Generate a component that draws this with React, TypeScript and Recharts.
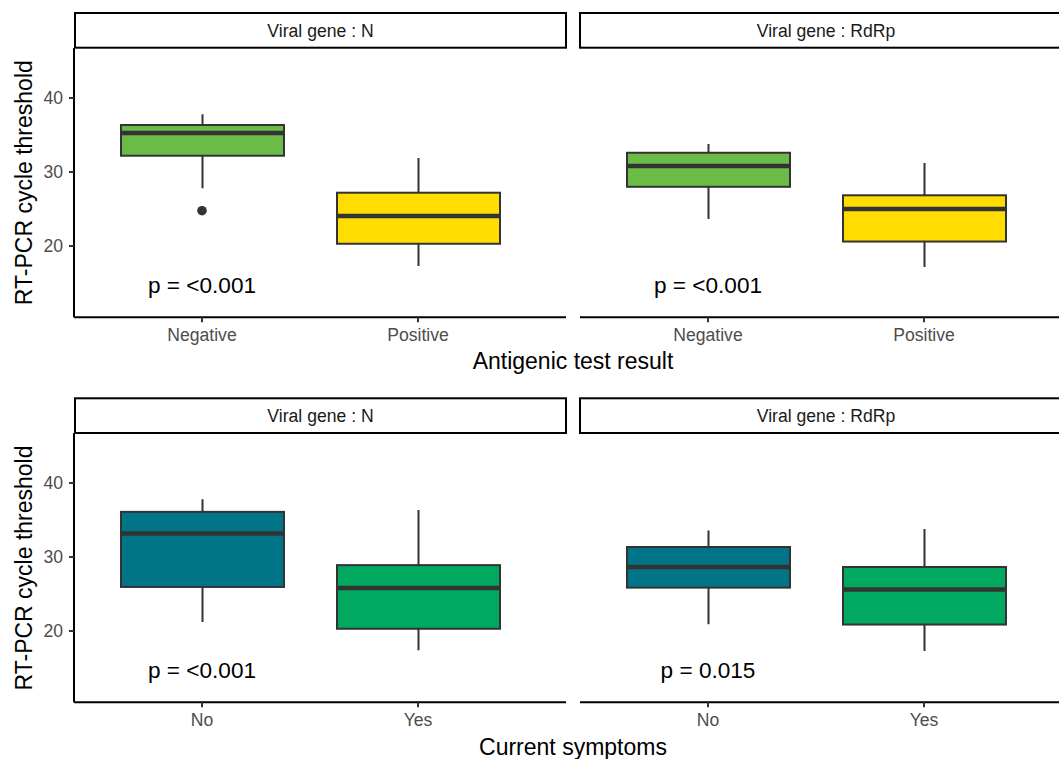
import React from "react";
import { Bar, Cell, ComposedChart, Line, XAxis, YAxis } from "recharts";

// five-number summaries per group: [lower whisker, Q1, median, Q3, upper whisker]
const antigenCategories = ["Negative", "Positive"];
const symptomCategories = ["No", "Yes"];

const antigenN = [
  [27.8, 32.2, 35.27, 36.35, 37.8],
  [17.3, 20.3, 24.05, 27.2, 31.9],
];
const antigenRdRp = [
  [23.65, 28.0, 30.8, 32.6, 33.8],
  [17.16, 20.6, 25.0, 26.85, 31.2],
];
const symptomN = [
  [21.2, 25.95, 33.16, 36.1, 37.8],
  [17.4, 20.3, 25.8, 28.9, 36.35],
];
const symptomRdRp = [
  [20.9, 25.86, 28.65, 31.35, 33.57],
  [17.3, 20.87, 25.6, 28.65, 33.8],
];

const antigenNOutliers = [24.77, null];
const noOutliers = [null, null];

const pAntigenN = "p = <0.001";
const pAntigenRdRp = "p = <0.001";
const pSymptomN = "p = <0.001";
const pSymptomRdRp = "p = 0.015";
const pLabelY = 13.7;

const yTicks = [20, 30, 40];
const yDomain = [10.36, 46.76];

const antigenColors = ["#6BBC47", "#FFDD00"];
const symptomColors = ["#007588", "#00A95F"];

const FONT = '"Liberation Sans", Arial, Helvetica, sans-serif';
const INK = "#333333";

function BoxShape(props: any) {
  const { x, y, width, height, payload, fill } = props;
  const top = Math.min(y, y + height);
  const h = Math.abs(height);
  const [q1, q3] = payload.box;
  const k = h / (q3 - q1);
  const py = (v: number) => top + (q3 - v) * k;
  const cx = x + width / 2;
  return (
    <g>
      <line x1={cx} x2={cx} y1={py(payload.high)} y2={top} stroke={INK} strokeWidth={2} />
      <line x1={cx} x2={cx} y1={top + h} y2={py(payload.low)} stroke={INK} strokeWidth={2} />
      <rect x={x} y={top} width={width} height={h} fill={fill} stroke={INK} strokeWidth={2} />
      <line x1={x} x2={x + width} y1={py(payload.med)} y2={py(payload.med)} stroke={INK} strokeWidth={4.5} />
    </g>
  );
}

function OutlierDot(props: any) {
  const { cx, cy, value, index } = props;
  if (value == null || cy == null) return <g key={`o${index}`} />;
  return <circle key={`o${index}`} cx={cx} cy={cy} r={4.8} fill={INK} />;
}

function makeLabel(text: string) {
  return (props: any) => {
    const { cx, cy, value, index } = props;
    if (value == null || cy == null) return <g key={`p${index}`} />;
    return (
      <text key={`p${index}`} x={cx} y={cy} textAnchor="middle" fontSize={22.6} fontFamily={FONT} fill="#000">
        {text}
      </text>
    );
  };
}

interface PanelProps {
  categories: string[];
  stats: number[][];
  outliers: (number | null)[];
  colors: string[];
  pText: string;
  showY: boolean;
  left: number;
  top: number;
}

function Panel({ categories, stats, outliers, colors, pText, showY, left, top }: PanelProps) {
  const rows = categories.map((c, i) => ({
    cat: c,
    box: [stats[i][1], stats[i][3]],
    low: stats[i][0],
    med: stats[i][2],
    high: stats[i][4],
    outlier: outliers[i],
    pY: i === 0 ? pLabelY : null,
  }));
  const width = showY ? 567 : 492;
  return (
    <div style={{ position: "absolute", left, top }}>
      <ComposedChart
        width={width}
        height={315}
        data={rows}
        margin={{ top: 0, right: showY ? 1 : 0, bottom: 0, left: 0 }}
      >
        <XAxis
          dataKey="cat"
          type="category"
          interval={0}
          padding={{ left: 20, right: 40 }}
          height={45.7}
          tickSize={5}
          tickMargin={6}
          axisLine={{ stroke: "#000", strokeWidth: 2 }}
          tickLine={{ stroke: INK, strokeWidth: 2 }}
          tick={{ fill: "#4D4D4D", fontSize: 17.6, fontFamily: FONT }}
        />
        <YAxis
          type="number"
          domain={yDomain}
          allowDataOverflow
          ticks={yTicks}
          hide={!showY}
          width={74}
          tickSize={5}
          tickMargin={6}
          axisLine={{ stroke: "#000", strokeWidth: 2 }}
          tickLine={{ stroke: INK, strokeWidth: 2 }}
          tick={{ fill: "#4D4D4D", fontSize: 17.6, fontFamily: FONT }}
        />
        <Bar dataKey="box" barSize={163} shape={BoxShape} isAnimationActive={false}>
          {rows.map((_, i) => (
            <Cell key={i} fill={colors[i]} />
          ))}
        </Bar>
        <Line dataKey="outlier" stroke="none" dot={OutlierDot} activeDot={false} isAnimationActive={false} />
        <Line dataKey="pY" stroke="none" dot={makeLabel(pText)} activeDot={false} isAnimationActive={false} />
      </ComposedChart>
    </div>
  );
}

function Strip({ x, y, w, label }: { x: number; y: number; w: number; label: string }) {
  return (
    <g>
      <rect x={x} y={y} width={w} height={34.7} fill="#fff" stroke="#000" strokeWidth={2} />
      <text x={x + w / 2} y={y + 23.7} textAnchor="middle" fontSize={17.6} fontFamily={FONT} fill="#1A1A1A">
        {label}
      </text>
    </g>
  );
}

export default function App() {
  const rowOffset = 385.3;
  return (
    <div
      style={{
        position: "absolute",
        left: 0,
        top: 0,
        width: 1059,
        height: 759,
        overflow: "hidden",
        background: "#fff",
      }}
    >
      <Panel categories={antigenCategories} stats={antigenN} outliers={antigenNOutliers} colors={antigenColors} pText={pAntigenN} showY left={0} top={48} />
      <Panel categories={antigenCategories} stats={antigenRdRp} outliers={noOutliers} colors={antigenColors} pText={pAntigenRdRp} showY={false} left={580} top={48} />
      <Panel categories={symptomCategories} stats={symptomN} outliers={noOutliers} colors={symptomColors} pText={pSymptomN} showY left={0} top={48 + rowOffset} />
      <Panel categories={symptomCategories} stats={symptomRdRp} outliers={noOutliers} colors={symptomColors} pText={pSymptomRdRp} showY={false} left={580} top={48 + rowOffset} />
      <svg width={1059} height={759} style={{ position: "absolute", left: 0, top: 0, pointerEvents: "none" }}>
        <Strip x={75} y={13} w={491} label="Viral gene : N" />
        <Strip x={580} y={13} w={492} label="Viral gene : RdRp" />
        <Strip x={75} y={13 + rowOffset} w={491} label="Viral gene : N" />
        <Strip x={580} y={13 + rowOffset} w={492} label="Viral gene : RdRp" />
        <text x={32} y={182.7} transform="rotate(-90 32 182.7)" textAnchor="middle" fontSize={23} fontFamily={FONT} fill="#000">
          RT-PCR cycle threshold
        </text>
        <text x={32} y={182.7 + rowOffset} transform={`rotate(-90 32 ${182.7 + rowOffset})`} textAnchor="middle" fontSize={23} fontFamily={FONT} fill="#000">
          RT-PCR cycle threshold
        </text>
        <text x={573} y={369.3} textAnchor="middle" fontSize={23} fontFamily={FONT} fill="#000">
          Antigenic test result
        </text>
        <text x={573} y={369.3 + rowOffset} textAnchor="middle" fontSize={23} fontFamily={FONT} fill="#000">
          Current symptoms
        </text>
      </svg>
    </div>
  );
}
